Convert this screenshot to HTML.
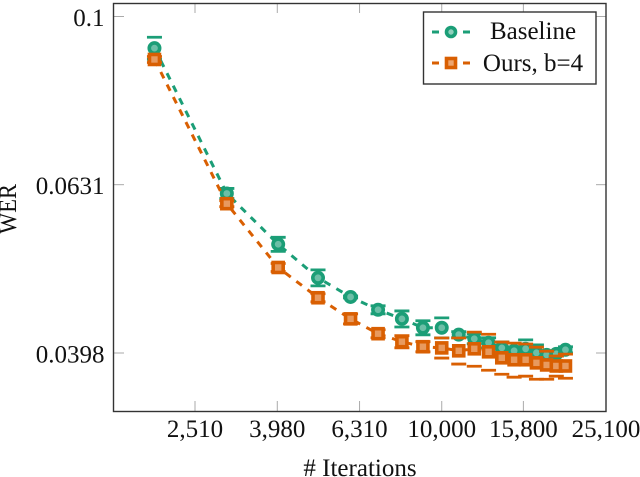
<!DOCTYPE html>
<html>
<head>
<meta charset="utf-8">
<style>
html,body{margin:0;padding:0;background:#fff;width:640px;height:477px;overflow:hidden}
svg{display:block}
text{font-family:"Liberation Serif",serif;fill:#111;font-size:25px}
</style>
</head>
<body>
<svg id="chart" width="640" height="477" viewBox="0 0 640 477" xmlns="http://www.w3.org/2000/svg">
  <g id="ticks"></g>
  <g id="series"></g>
  <rect x="113.5" y="3.5" width="492.5" height="408" fill="none" stroke="#333" stroke-width="1.4"/>
  <g id="labels"></g>
  <text x="360" y="476" text-anchor="middle"># Iterations</text>
  <text transform="translate(16,209) rotate(-90)" text-anchor="middle" textLength="50" lengthAdjust="spacingAndGlyphs">WER</text>
  <g>
    <rect x="423.5" y="12" width="172.5" height="72" fill="#fff" stroke="#333" stroke-width="1.4"/>
    <g>
      <line x1="432" y1="32" x2="470" y2="32" stroke="#1b9e77" stroke-width="3" stroke-dasharray="7 24 7"/>
      <circle cx="451" cy="32" r="4.5" fill="#8fd0bc" stroke="#1b9e77" stroke-width="3.6"/>
      <text x="533" y="39" text-anchor="middle">Baseline</text>
    </g>
    <g>
      <line x1="432" y1="63" x2="470" y2="63" stroke="#d95f02" stroke-width="3" stroke-dasharray="7 24 7"/>
      <rect x="446.5" y="58.5" width="9" height="9" fill="#eda56f" stroke="#d95f02" stroke-width="3.6"/>
      <text x="533" y="71" text-anchor="middle">Ours, b=4</text>
    </g>
  </g>
</svg>
<script>
var iterations = [2000,3000,4000,5000,6000,7000,8000,9000,10000,11000,12000,13000,14000,15000,16000,17000,18000,19000,20000];
var baselineWer = [0.0917,0.0616,0.0536,0.0489,0.0464,0.0448,0.0437,0.04265,0.04265,0.04185,0.04138,0.04093,0.04036,0.04004,0.04026,0.03982,0.0396,0.03971,0.04015];
var baselineErr = [0.00277,0.00085,0.00103,0.00107,0.00013,0.00049,0.00096,0.00082,0.00117,0.00034,0.00057,0.00056,0.00067,0.00044,0.001,0.00087,0.00033,0.00022,0.00033];
var oursWer = [0.0889,0.0599,0.0503,0.0463,0.0437,0.04196,0.04105,0.04049,0.04036,0.04004,0.04026,0.03993,0.03928,0.03907,0.03907,0.03874,0.03852,0.03841,0.03841];
var oursErr = [0.00073,0.00049,0.00055,0.00051,0.0006,0.00046,0.00068,0.00056,0.00111,0.00143,0.00188,0.00197,0.00173,0.00182,0.00172,0.0017,0.00148,0.00106,0.00127];
var xTickValues = [2510,3980,6310,10000,15800,25100];
var xTickLabels = ["2,510","3,980","6,310","10,000","15,800","25,100"];
var yTickValues = [0.1,0.0631,0.0398];
var yTickLabels = ["0.1","0.0631","0.0398"];

var NS = "http://www.w3.org/2000/svg";
function xScale(v){ return 195 + (Math.log10(v) - Math.log10(2510)) * 411; }
function yScale(v){ return 16.5 + (-1 - Math.log10(v)) * 841; }
function make(parent, tag, attrs){
  var el = document.createElementNS(NS, tag);
  for (var k in attrs) el.setAttribute(k, attrs[k]);
  parent.appendChild(el);
  return el;
}
var tickLayer = document.getElementById("ticks");
var labelLayer = document.getElementById("labels");
var seriesLayer = document.getElementById("series");

xTickValues.forEach(function(v, i){
  var x = xScale(v);
  var b = make(tickLayer, "line", {x1:x, x2:x, y1:401, y2:411, stroke:"#aaa", "stroke-width":1});
  
  
  var t = make(tickLayer, "line", {x1:x, x2:x, y1:3, y2:13, stroke:"#aaa", "stroke-width":1});
  
  
  var l = make(labelLayer, "text", {x:x, y:437, "text-anchor":"middle"});
  
  
  l.textContent = xTickLabels[i];
});
yTickValues.forEach(function(v, i){
  var y = yScale(v);
  var a = make(tickLayer, "line", {x1:113, x2:124, y1:y, y2:y, stroke:"#aaa", "stroke-width":1});
  
  
  var c = make(tickLayer, "line", {x1:596, x2:606, y1:y, y2:y, stroke:"#aaa", "stroke-width":1});
  
  
  var l = make(labelLayer, "text", {x:104.5, y:y + 9.5, "text-anchor":"end"});
  
  
  l.textContent = yTickLabels[i];
});

function drawSeries(name, values, errs, color, light, square){
  var g = make(seriesLayer, "g", {});
  
  
  var pts = iterations.map(function(it, i){ return xScale(it).toFixed(1) + "," + yScale(values[i]).toFixed(1); }).join(" ");
  var line = make(g, "polyline", {points:pts, fill:"none", stroke:color, "stroke-width":3, "stroke-dasharray":"7 7"});
  
  
  iterations.forEach(function(it, i){
    var x = xScale(it), y = yScale(values[i]);
    var hi = yScale(values[i] + errs[i]), lo = yScale(values[i] - errs[i]);
    var bar = make(g, "path", {
      d:"M"+(x-7.5)+" "+hi+"H"+(x+7.5)+"M"+(x-7.5)+" "+lo+"H"+(x+7.5),
      fill:"none", stroke:color, "stroke-width":2.8});
    
    
    var m;
    if (square) {
      m = make(g, "rect", {x:x-5, y:y-5, width:10, height:10, fill:light, stroke:color, "stroke-width":3.6});
    } else {
      m = make(g, "circle", {cx:x, cy:y, r:5.2, fill:light, stroke:color, "stroke-width":3.6});
    }
    
    
  });
}
drawSeries("baseline", baselineWer, baselineErr, "#1b9e77", "#6cbfa7", false);
drawSeries("ours", oursWer, oursErr, "#d95f02", "#e89a5f", true);
</script>
</body>
</html>
